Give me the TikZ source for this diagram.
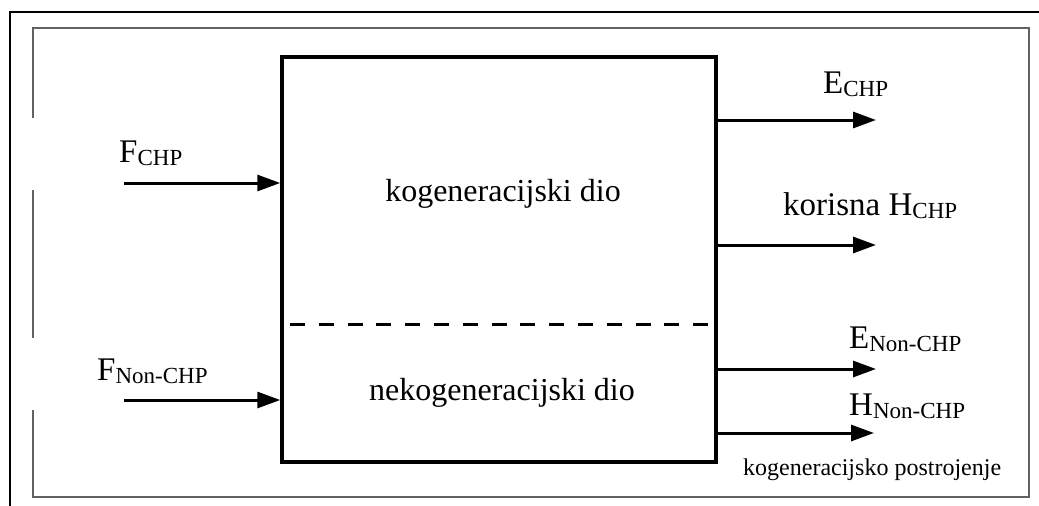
\documentclass[tikz,border=0pt]{standalone}
\usepackage{fontspec}
\setmainfont{Liberation Serif}
\usetikzlibrary{arrows.meta}
\newcommand{\sbx}[1]{\raisebox{-3pt}{\fontsize{23}{23}\selectfont #1}}
\begin{document}
\begin{tikzpicture}[x=1pt,y=-1pt,
  lbl/.style={anchor=base west,inner sep=0pt,font=\fontsize{33}{36}\selectfont},
  flow/.style={line width=3pt,-{Triangle[length=23pt,width=16pt]}},
  frame/.style={line width=2.4pt,draw=black!62},
  mainbox/.style={draw,line width=3.5pt,minimum width=434pt,minimum height=405pt,inner sep=0pt}]
\useasboundingbox (0,0) rectangle (1039,506);
% outer black partial frame
\draw[line width=2pt] (10,506) -- (10,12) -- (1039,12);
% gray frame with gaps on left side
\draw[frame] (33,118) -- (33,28) -- (1029,28) -- (1029,497) -- (33,497) -- (33,410);
\draw[frame] (33,190) -- (33,338);
% main box
\node[mainbox] (box) at (499,259.5) {};
\draw[line width=3pt,dash pattern=on 15pt off 13.8pt] (290,324) -- (709,324);
\node[anchor=base,inner sep=0pt,font=\fontsize{32}{36}\selectfont] (t1) at (503,201) {kogeneracijski dio};
\node[anchor=base,inner sep=0pt,font=\fontsize{32}{36}\selectfont] (t2) at (502,400) {nekogeneracijski dio};
% inputs
\coordinate (i1) at (124,183);
\coordinate (i2) at (124,400);
\draw[flow] (i1) -- (i1 -| box.west);
\draw[flow] (i2) -- (i2 -| box.west);
\node[lbl] (lf1) at (119,162) {F\sbx{CHP}};
\node[lbl] (lf2) at (97,380) {F\sbx{Non-CHP}};
% outputs
\coordinate (o1) at (876,120);
\coordinate (o2) at (876,245);
\coordinate (o3) at (876,369);
\coordinate (o4) at (874,433);
\draw[flow] (o1 -| box.east) -- (o1);
\draw[flow] (o2 -| box.east) -- (o2);
\draw[flow] (o3 -| box.east) -- (o3);
\draw[flow] (o4 -| box.east) -- (o4);
\node[lbl] (le1) at (823,93) {E\sbx{CHP}};
\node[lbl] (lh1) at (783,215) {korisna H\sbx{CHP}};
\node[lbl] (le2) at (849,348) {E\sbx{Non-CHP}};
\node[lbl] (lh2) at (849,415) {H\sbx{Non-CHP}};
\node[anchor=base west,inner sep=0pt,font=\fontsize{24}{26}\selectfont] (cap) at (743,475) {kogeneracijsko postrojenje};
\end{tikzpicture}
\end{document}
